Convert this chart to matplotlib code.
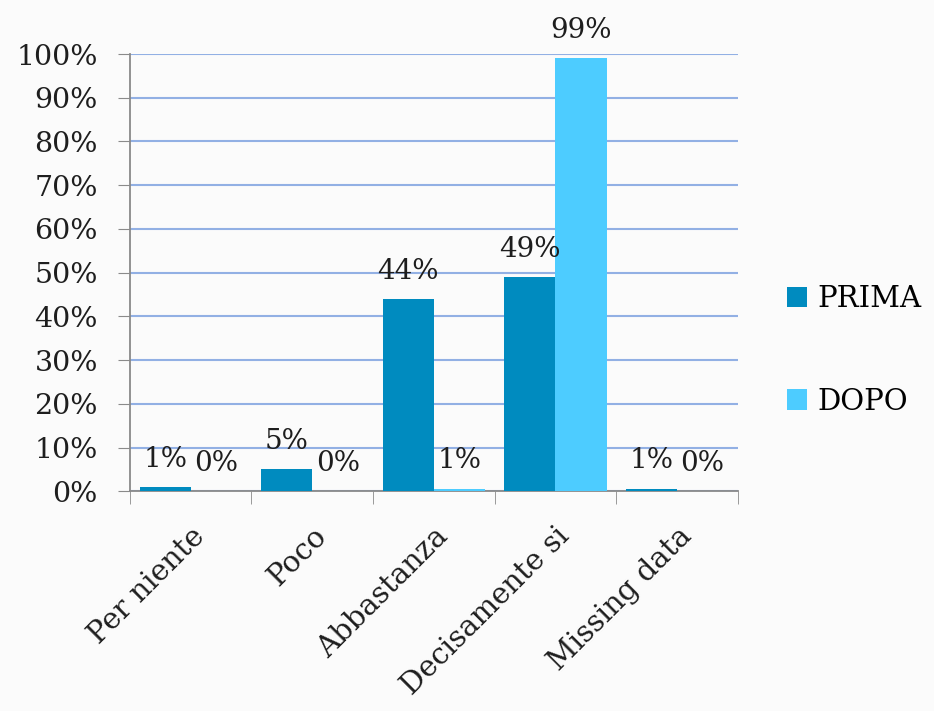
import matplotlib.pyplot as plt
import matplotlib.transforms as mtransforms
import numpy as np

categories = ['Per niente', 'Poco', 'Abbastanza', 'Decisamente si', 'Missing data']
prima = [0.9, 5, 44, 49, 0.6]
dopo = [0, 0, 0.6, 99, 0]
prima_labels = ['1%', '5%', '44%', '49%', '1%']
dopo_labels = ['0%', '0%', '1%', '99%', '0%']
series_names = ['PRIMA', 'DOPO']
colors = ['#008BBF', '#4DCCFF']

plt.rcParams['font.family'] = ['DejaVu Serif']
txt = '#1e1e1e'

fig = plt.figure(figsize=(9.34, 7.11), dpi=100, facecolor='#fbfbfb')
ax = fig.add_axes([0.139, 0.309, 0.651, 0.615])
ax.set_facecolor('#fbfbfb')

x = np.arange(len(categories))
w = 0.42
b1 = ax.bar(x - w / 2, prima, w, color=colors[0], label=series_names[0], zorder=3)
b2 = ax.bar(x + w / 2, dopo, w, color=colors[1], label=series_names[1], zorder=3)

# value labels above each bar
for bars, labels in [(b1, prima_labels), (b2, dopo_labels)]:
    for rect, lab in zip(bars, labels):
        ax.annotate(lab, (rect.get_x() + rect.get_width() / 2, rect.get_height()),
                    xytext=(0, 20), textcoords='offset points', ha='center', va='center',
                    fontsize=20, color=txt, zorder=4)

ax.set_ylim(0, 100)
ax.set_xlim(-0.5, len(categories) - 0.5)
ax.set_yticks(np.arange(0, 101, 10))
ax.set_yticklabels([f'{v}%' for v in range(0, 101, 10)], fontsize=20.5, color=txt)
ax.yaxis.grid(True, color='#92b0e4', linewidth=1.5, zorder=0)

ax.set_xticks(x)
ax.set_xticklabels(categories, rotation=45, ha='right', rotation_mode='anchor',
                   fontsize=21, color=txt)
shift = mtransforms.ScaledTranslation(4 / 100, 0, fig.dpi_scale_trans)
for lbl in ax.get_xticklabels():
    lbl.set_transform(lbl.get_transform() + shift)
ax.set_xticks(np.arange(-0.5, len(categories), 1), minor=True)
ax.tick_params(axis='x', which='major', length=0, pad=22)
ax.tick_params(axis='x', which='minor', length=9, color='#8a8a8a', direction='out')
ax.tick_params(axis='y', length=9, color='#8a8a8a', direction='out', pad=14)

for s in ['top', 'right']:
    ax.spines[s].set_visible(False)
for s in ['left', 'bottom']:
    ax.spines[s].set_color('#8a8a8a')
    ax.spines[s].set_linewidth(1.3)

ax.legend(loc='center left', bbox_to_anchor=(0.83, 0.507), bbox_transform=fig.transFigure,
          frameon=False, fontsize=21, borderaxespad=0,
          handlelength=0.7, handleheight=0.7, handletextpad=0.35, labelspacing=2.55)

fig.savefig('out.png', dpi=100, facecolor=fig.get_facecolor())
